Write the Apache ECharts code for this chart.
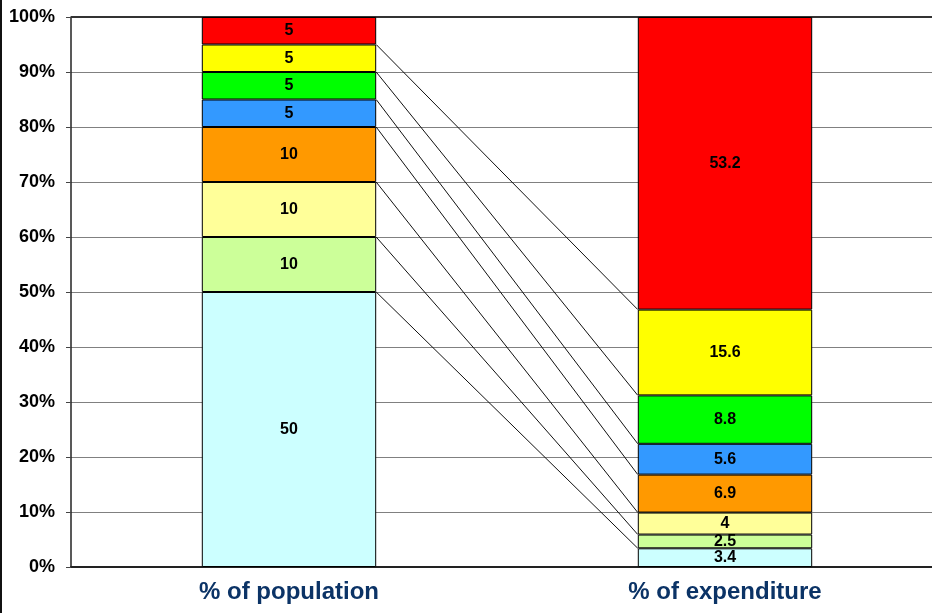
<!DOCTYPE html>
<html>
<head>
<meta charset="utf-8">
<script src="https://cdn.jsdelivr.net/npm/echarts@6/dist/echarts.min.js"></script>
<style>
  html, body { margin: 0; padding: 0; background: #fff; overflow: hidden; width: 932px; height: 613px; }
  /* the plot area runs a little past the visible right edge */
  #chart { width: 944px; height: 613px; }
</style>
</head>
<body>
<div id="chart"></div>
<script>
// Share of population vs. share of expenditure, by group (bottom to top)
const categories = ['% of population', '% of expenditure'];
const population = [50, 10, 10, 10, 5, 5, 5, 5];
const expenditure = [3.4, 2.5, 4, 6.9, 5.6, 8.8, 15.6, 53.2];
const groupColors = ['#CCFFFF', '#CCFF99', '#FFFF99', '#FF9900', '#3399FF', '#00FF00', '#FFFF00', '#FF0000'];
const yTicks = [0, 10, 20, 30, 40, 50, 60, 70, 80, 90, 100];

// Cumulative boundaries between groups, used for the connector lines
function cumulative(arr) {
  const out = [];
  let s = 0;
  for (let i = 0; i < arr.length - 1; i++) { s += arr[i]; out.push(+s.toFixed(2)); }
  return out;
}
const popEdges = cumulative(population);
const expEdges = cumulative(expenditure);
const connectors = popEdges.map((v, i) => [v, expEdges[i]]);

const barWidthFrac = 0.4; // bar width as a share of the category band
const leftEdgeX = 0.5 + barWidthFrac / 2;   // right side of first bar (value axis 0..2)
const rightEdgeX = 1.5 - barWidthFrac / 2;  // left side of second bar

const chart = echarts.init(document.getElementById('chart'));

const barSeries = population.map((p, i) => ({
  type: 'bar',
  stack: 'total',
  data: [p, expenditure[i]],
  barCategoryGap: '60%',
  itemStyle: { color: groupColors[i], borderColor: '#000', borderWidth: 1 },
  label: {
    show: true,
    position: 'inside',
    color: '#000',
    fontWeight: 'bold',
    fontSize: 16,
    fontFamily: 'Liberation Sans, Arial, sans-serif'
  },
  emphasis: { disabled: true },
  silent: true,
  z: 3
}));

barSeries[0].markLine = {
  silent: true,
  symbol: 'none',
  label: { show: false },
  lineStyle: { color: '#333', width: 2, type: 'solid' },
  data: [{ yAxis: 100 }],
  z: 1
};

const option = {
  animation: false,
  backgroundColor: '#fff',
  grid: { left: 71, top: 17, bottom: 46, right: 1 },
  xAxis: [
    {
      type: 'category',
      data: categories,
      axisLine: { show: true, lineStyle: { color: '#222', width: 2 } },
      axisTick: { show: false },
      axisLabel: {
        color: '#0B3366',
        fontWeight: 'bold',
        fontSize: 24,
        fontFamily: 'Liberation Sans, Arial, sans-serif',
        margin: 13
      }
    },
    {
      type: 'value',
      min: 0,
      max: 2,
      show: false
    }
  ],
  yAxis: {
    type: 'value',
    min: 0,
    max: 100,
    interval: 10,
    axisLine: { show: true, lineStyle: { color: '#222', width: 1.5 } },
    axisTick: { show: true, length: 5, lineStyle: { color: '#444' } },
    splitLine: { show: true, lineStyle: { color: '#808080', width: 1 } },
    axisLabel: {
      color: '#000',
      fontWeight: 'bold',
      fontSize: 18,
      fontFamily: 'Liberation Sans, Arial, sans-serif',
      margin: 16,
      formatter: v => (yTicks.indexOf(v) >= 0 ? v + '%' : '')
    }
  },
  graphic: [
    { type: 'rect', left: 0, top: 0, shape: { width: 2, height: 613 }, style: { fill: '#111' } }
  ],
  series: barSeries.concat([{
    type: 'custom',
    xAxisIndex: 1,
    yAxisIndex: 0,
    data: connectors,
    silent: true,
    z: 2,
    renderItem: function (params, api) {
      const a = api.coord([leftEdgeX, api.value(0)]);
      const b = api.coord([rightEdgeX, api.value(1)]);
      return {
        type: 'line',
        shape: { x1: a[0], y1: a[1], x2: b[0], y2: b[1] },
        style: { stroke: '#111', lineWidth: 1 }
      };
    },
    encode: { y: [0, 1] }
  }])
};

chart.setOption(option);
</script>
</body>
</html>
